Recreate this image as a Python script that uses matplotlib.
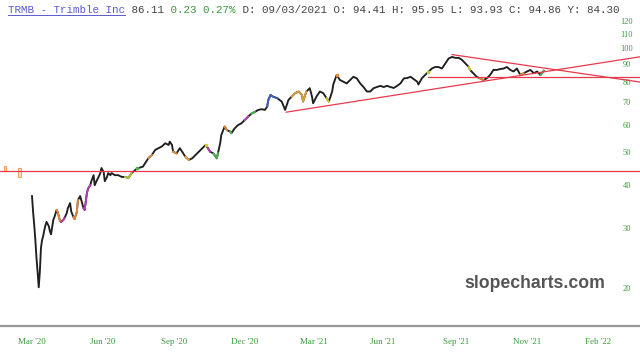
import matplotlib
matplotlib.use('Agg')
import matplotlib.pyplot as plt
from matplotlib.ticker import FixedLocator, FixedFormatter, NullLocator
from matplotlib.lines import Line2D

# trading days counted from Mar 2 2020, closing prices
days = [0, 1, 2, 3, 4, 5, 6, 7, 8, 9, 10, 11, 12, 13, 15, 16, 17, 19, 20, 22,
        23, 25, 26, 28, 29, 31, 32, 34, 35, 37, 38, 40, 41, 43, 44, 46, 47, 49, 50, 52,
        53, 55, 56, 58, 59, 61, 62, 64, 65, 67, 68, 70, 71, 74, 77, 80, 83, 86, 89, 94,
        99, 104, 107, 110, 113, 116, 119, 122, 123, 125, 126, 129, 132, 134, 137, 140, 143, 146, 149, 152,
        155, 157, 159, 162, 165, 166, 168, 169, 172, 174, 177, 178, 181, 184, 187, 190, 193, 196, 199, 202,
        205, 208, 210, 211, 213, 215, 219, 221, 223, 226, 229, 232, 235, 238, 241, 242, 245, 248, 250, 251,
        254, 257, 260, 263, 265, 268, 269, 272, 275, 278, 281, 284, 287, 290, 293, 296, 299, 302, 305, 308,
        311, 314, 317, 320, 323, 326, 329, 332, 335, 338, 340, 344, 345, 348, 351, 354, 357, 360, 363, 366,
        369, 372, 375, 378, 381, 384, 387, 390, 391, 394, 397, 400, 403, 406, 409, 412, 415, 418, 421, 424,
        427, 430, 433, 436, 439, 442, 445, 448, 451, 454, 457]
closes = [37.1, 33.3, 30.5, 27.6, 24.5, 22.3, 20.1, 22.3, 26.2, 27.6, 28.4, 29.5, 30.5, 31.2, 30.3, 29.3, 28.7, 31.6, 32.2, 33.8,
          33.3, 31.4, 31.2, 31.6, 32.0, 33.1, 34.2, 35.4, 33.5, 32.2, 31.8, 33.3, 36.1, 37.1, 36.1, 34.2, 33.8, 37.8, 39.0, 39.9,
          41.0, 42.7, 39.9, 41.3, 41.9, 43.3, 44.8, 43.6, 41.0, 42.2, 43.3, 42.7, 43.3, 42.7, 42.7, 42.2, 42.2, 41.9, 43.3, 44.7,
          45.2, 47.9, 48.9, 50.6, 51.2, 51.8, 52.9, 52.3, 53.5, 52.3, 50.0, 49.4, 51.2, 50.0, 48.3, 47.3, 47.8, 48.9, 50.0, 51.2,
          52.3, 51.2, 50.0, 49.4, 47.8, 49.5, 52.9, 55.9, 59.2, 57.8, 57.2, 56.6, 58.5, 59.8, 60.5, 61.9, 63.3, 64.6, 65.3, 66.2,
          66.5, 66.2, 67.7, 70.8, 73.2, 72.4, 71.6, 70.8, 70.0, 66.2, 70.8, 72.4, 74.1, 74.9, 73.2, 70.0, 74.9, 76.6, 72.4, 69.2,
          72.4, 74.9, 74.1, 71.6, 70.0, 74.9, 78.5, 83.7, 80.9, 80.0, 79.1, 80.9, 82.7, 81.8, 79.1, 77.2, 74.9, 74.9, 76.6, 77.2,
          77.8, 77.2, 77.8, 77.2, 76.7, 77.8, 79.1, 81.8, 82.0, 82.7, 81.8, 80.0, 78.5, 81.8, 83.7, 85.5, 87.4, 88.3, 88.3, 87.4,
          90.4, 93.5, 94.5, 93.9, 93.9, 92.6, 90.4, 88.3, 86.6, 84.7, 82.7, 81.8, 80.9, 81.8, 83.7, 86.6, 86.6, 87.1, 87.4, 88.3,
          86.6, 85.7, 87.4, 83.7, 84.7, 85.7, 86.6, 84.7, 85.7, 83.7, 86.1]

# two stray Feb '20 candles at the far left (day, low, high)
stray_days = [-24, -11]
stray_low = [43.9, 42.2]
stray_high = [45.3, 44.8]

# coloured candle stretches (start day, end day, colour)
color_spans = [(21, 26, '#e08a3c'), (26, 30, '#b03fb0'), (37, 41, '#e08a3c'), (46, 52, '#b03fb0'),
               (83, 89, '#b8c040'), (92, 96, '#4caf50'), (104, 108, '#e08a3c'), (126, 130, '#e08a3c'),
               (135, 141, '#e0a040'), (153, 155, '#d8c830'), (157, 161, '#b03fb0'), (162, 166, '#4caf50'),
               (171, 175, '#e08a3c'), (177, 180, '#4caf50'), (188, 194, '#b03fb0'), (195, 200, '#4caf50'),
               (210, 220, '#4060c0'), (232, 245, '#d8a040'), (263, 266, '#d8c830'), (270, 273, '#e08a3c'),
               (352, 356, '#c8c830'), (388, 392, '#d8c830'), (400, 405, '#e08a3c'), (436, 440, '#e08a3c'),
               (453, 457, '#4caf50')]

# trend lines (day, price) pairs
support_price = 43.8
resist_start, resist_price = 354, 82.6
rising_line = [(227, 65.2), (543, 94.6)]
falling_line = [(375, 96.0), (543, 79.8)]

tick_days = [0, 63, 127, 190, 252, 313, 379, 442, 505]
tick_labels = ["Mar '20", "Jun '20", "Sep '20", "Dec '20", "Mar '21", "Jun '21", "Sep '21", "Nov '21", "Feb '22"]
y_ticks = [20, 30, 40, 50, 60, 70, 80, 90, 100, 110, 120]

green = '#3a9a3a'
red = '#e8394c'

fig = plt.figure(figsize=(6.4, 3.58), dpi=100)
ax = fig.add_axes([0, 32 / 358, 1, 310 / 358])

ax.plot(days, closes, color='#1e1e1e', lw=1.35)
for s, e, c in color_spans:
    xs = [d for d in days if s <= d <= e]
    ys = [p for d, p in zip(days, closes) if s <= d <= e]
    if len(xs) == 1:
        ax.plot(xs, ys, 's', color=c, ms=2)
    else:
        ax.plot(xs, ys, color=c, lw=1.35)

ax.bar(stray_days, [h - l for h, l in zip(stray_high, stray_low)], bottom=stray_low,
       width=2.2, facecolor='#fde6d0', edgecolor='#f0a060', lw=0.8)

ax.axhline(support_price, color=red, lw=0.9)
ax.plot([resist_start, 543], [resist_price, resist_price], color=red, lw=0.9)
ax.plot([p[0] for p in rising_line], [p[1] for p in rising_line], color=red, lw=0.9)
ax.plot([p[0] for p in falling_line], [p[1] for p in falling_line], color=red, lw=0.9)

ax.set_yscale('log')
ax.set_ylim(15.5, 124.4)
ax.set_xlim(-28.57, 542.86)

ax.yaxis.set_major_locator(FixedLocator(y_ticks))
ax.yaxis.set_major_formatter(FixedFormatter([str(v) for v in y_ticks]))
ax.yaxis.set_minor_locator(NullLocator())
ax.yaxis.tick_right()
ax.tick_params(axis='y', length=0, pad=-9.4, labelsize=6, labelcolor=green)
for lab in ax.get_yticklabels():
    lab.set_family('Liberation Serif')
    lab.set_ha('center')

ax.set_xticks(tick_days)
ax.set_xticklabels(tick_labels, family='Liberation Serif', fontsize=6.5, color=green)
ax.tick_params(axis='x', length=0, pad=9)

for sp in ['top', 'left', 'right']:
    ax.spines[sp].set_visible(False)
ax.spines['bottom'].set_color('#999999')
ax.spines['bottom'].set_linewidth(1.6)

# header line
cw = 6.5
hy = 1 - 10 / 358
parts = [("TRMB - Trimble Inc", '#5a5ad0'), (" 86.11", '#444444'), (" 0.23 0.27%", '#3a9a3a'),
         (" D: 09/03/2021 O: 94.41 H: 95.95 L: 93.93 C: 94.86 Y: 84.30", '#444444')]
n = 0
for txt, col in parts:
    fig.text((8 + n * cw) / 640, hy, txt, family='Liberation Mono', fontsize=7.8,
             color=col, va='center', ha='left')
    n += len(txt)
fig.add_artist(Line2D([8 / 640, (8 + 18 * cw) / 640], [1 - 15 / 358, 1 - 15 / 358],
                      color='#5a5ad0', lw=0.7))

fig.text(535 / 640, 1 - 283 / 358, 'slopecharts.com', family='Liberation Sans', weight='bold',
         fontsize=12.7, color='#555555', ha='center', va='center')

plt.savefig('out.png', dpi=100)
